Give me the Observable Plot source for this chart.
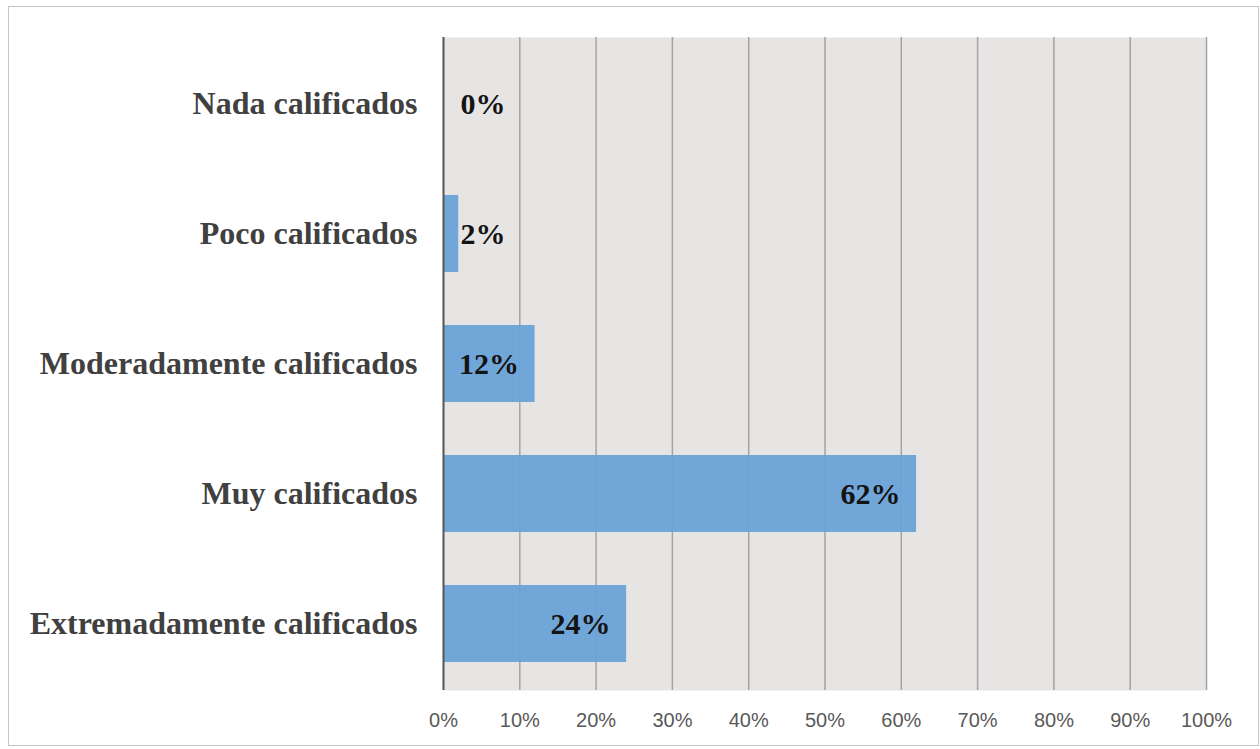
<!DOCTYPE html>
<html><head><meta charset="utf-8">
<script src="https://cdn.jsdelivr.net/npm/d3@7"></script>
<script src="https://cdn.jsdelivr.net/npm/@observablehq/plot@0.6"></script>
<style>
body{margin:0;background:#fff;}
#wrap{position:relative;width:1260px;height:749px;overflow:hidden;}
#wrap svg{position:absolute;left:0;top:0;}
#frame{position:absolute;left:8px;top:6px;width:1251px;height:740px;border:1.5px solid #c4c4c4;box-sizing:border-box;pointer-events:none;z-index:2;}
</style>
</head><body>
<div id="wrap"><div id="frame"></div></div>
<script>
const categories = ["Nada calificados","Poco calificados","Moderadamente calificados","Muy calificados","Extremadamente calificados"];
const values = [0, 2, 12, 62, 24];
const xTicks = [0, 10, 20, 30, 40, 50, 60, 70, 80, 90, 100];

const data = categories.map((c, i) => ({category: c, value: values[i], label: values[i] + "%"}));
const valueFont = {fontSize: 30, fontWeight: "bold", fontFamily: "Liberation Serif", fill: "#141414"};

const chart = Plot.plot({
  width: 1260, height: 749,
  marginLeft: 443, marginRight: 54, marginTop: 37, marginBottom: 59,
  x: {domain: [0, 100]},
  y: {domain: categories, paddingInner: 0.41, paddingOuter: 0.205},
  style: {background: "transparent", overflow: "visible"},
  marks: [
    Plot.frame({fill: "#e7e4e4", stroke: null}),
    Plot.gridX(xTicks.filter(d => d > 0), {stroke: "#a3a3a3", strokeOpacity: 1, strokeWidth: 1.5}),
    Plot.barX(data, {x: "value", y: "category", fill: "#6aa3d7", fillOpacity: 0.95}),
    Plot.ruleX([0], {stroke: "#555555", strokeWidth: 2}),
    Plot.text(data.filter(d => d.value >= 8), {x: "value", y: "category", text: "label", textAnchor: "end", dx: -16, ...valueFont}),
    Plot.text(data.filter(d => d.value < 8), {x: () => 0, y: "category", text: "label", textAnchor: "start", dx: 17, ...valueFont}),
    Plot.axisY({tickSize: 0, tickPadding: 26, fontSize: 32, fontWeight: "bold", fontFamily: "Liberation Serif", color: "#404040", label: null}),
    Plot.axisX({ticks: xTicks, tickFormat: d => d + "%", tickSize: 0, tickPadding: 22, fontSize: 20, fontFamily: "Liberation Sans", color: "#595959", label: null})
  ]
});
document.getElementById("wrap").appendChild(chart);
</script>
</body></html>
